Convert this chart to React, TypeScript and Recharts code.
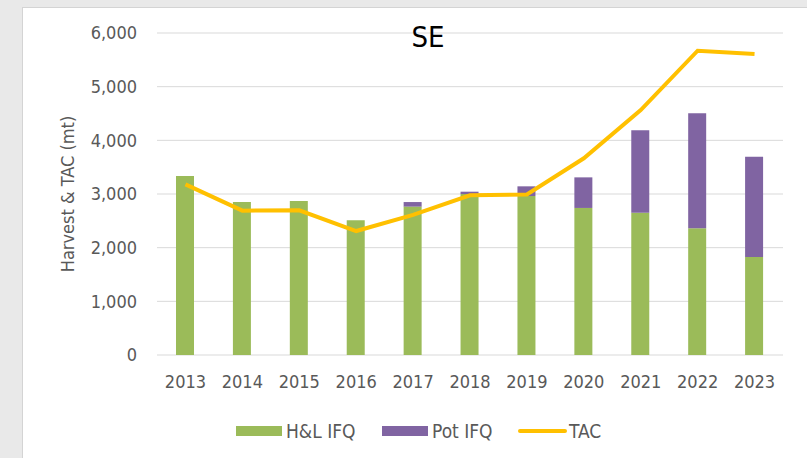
import {
  ComposedChart,
  Bar,
  Line,
  XAxis,
  YAxis,
  CartesianGrid,
} from 'recharts'

const years = ['2013', '2014', '2015', '2016', '2017', '2018', '2019', '2020', '2021', '2022', '2023']
const hlIfq = [3335, 2850, 2870, 2510, 2765, 3000, 2962, 2740, 2652, 2360, 1826]
const potIfq = [0, 0, 0, 0, 85, 43, 181, 570, 1535, 2143, 1869]
const tac = [3180, 2690, 2695, 2310, 2610, 2975, 2990, 3665, 4565, 5670, 5610]
const yTicks = [0, 1000, 2000, 3000, 4000, 5000, 6000]

const data = years.map((year, i) => ({
  year,
  hl: hlIfq[i],
  pot: potIfq[i],
  tac: tac[i],
}))

const GREEN = '#9BBB59'
const PURPLE = '#8064A2'
const GOLD = '#FFC000'
const TEXT = '#595959'
const FONT = "'Liberation Sans Narrow', 'DejaVu Sans Condensed', 'Liberation Sans', sans-serif"

// legend drawn as an overlay so it doesn't eat into the plot area
function ChartLegend() {
  return (
    <svg width={380} height={24} style={{ fontFamily: FONT, display: 'block' }}>
      <rect x={0} y={7} width={46} height={10} fill={GREEN} />
      <text x={50} y={19} fontSize={19} fill={TEXT}>H&amp;L IFQ</text>
      <rect x={146} y={7} width={46} height={10} fill={PURPLE} />
      <text x={196} y={19} fontSize={19} fill={TEXT}>Pot IFQ</text>
      <line x1={284} y1={12} x2={329} y2={12} stroke={GOLD} strokeWidth={4} strokeLinecap="round" />
      <text x={333} y={19} fontSize={19} fill={TEXT}>TAC</text>
    </svg>
  )
}

export default function App() {
  return (
    <div style={{ position: 'absolute', left: 0, top: 0, width: 807, height: 458, background: '#e9e9e9', overflow: 'hidden' }}>
      <div
        style={{
          position: 'absolute',
          left: 22,
          top: 7,
          width: 800,
          height: 460,
          background: '#ffffff',
          borderLeft: '1px solid #d4d4d4',
          borderTop: '1px solid #d4d4d4',
        }}
      />
      <div style={{ position: 'absolute', left: 0, top: 0 }}>
        <ComposedChart
          width={807}
          height={458}
          data={data}
          margin={{ top: 33, right: 24, bottom: 73, left: 77 }}
          style={{ fontFamily: FONT }}
        >
          <CartesianGrid vertical={false} stroke="#d9d9d9" />
          <XAxis
            dataKey="year"
            height={30}
            axisLine={false}
            tickLine={false}
            tickSize={0}
            tickMargin={20}
            tick={{ fill: TEXT, fontSize: 18 }}
            interval={0}
          />
          <YAxis
            width={80}
            domain={[0, 6000]}
            ticks={yTicks}
            axisLine={false}
            tickLine={false}
            tickSize={0}
            tickMargin={20}
            tick={{ fill: TEXT, fontSize: 18 }}
            tickFormatter={(v: number) => v.toLocaleString('en-US')}
            label={{
              value: 'Harvest & TAC (mt)',
              angle: -90,
              position: 'center',
              dx: -49,
              style: { fill: TEXT, fontSize: 18, textAnchor: 'middle' },
            }}
          />
          <Bar dataKey="hl" name="H&L IFQ" stackId="a" fill={GREEN} barSize={18} isAnimationActive={false} />
          <Bar dataKey="pot" name="Pot IFQ" stackId="a" fill={PURPLE} barSize={18} isAnimationActive={false} />
          <Line
            dataKey="tac"
            name="TAC"
            type="linear"
            stroke={GOLD}
            strokeWidth={4}
            dot={false}
            activeDot={false}
            isAnimationActive={false}
          />
        </ComposedChart>
      </div>
      <div style={{ position: 'absolute', left: 236, top: 419 }}>
        <ChartLegend />
      </div>
      <div
        style={{
          position: 'absolute',
          left: 398,
          top: 20,
          width: 60,
          textAlign: 'center',
          fontFamily: FONT,
          fontSize: 29,
          color: '#000000',
          lineHeight: '34px',
        }}
      >
        SE
      </div>
    </div>
  )
}
